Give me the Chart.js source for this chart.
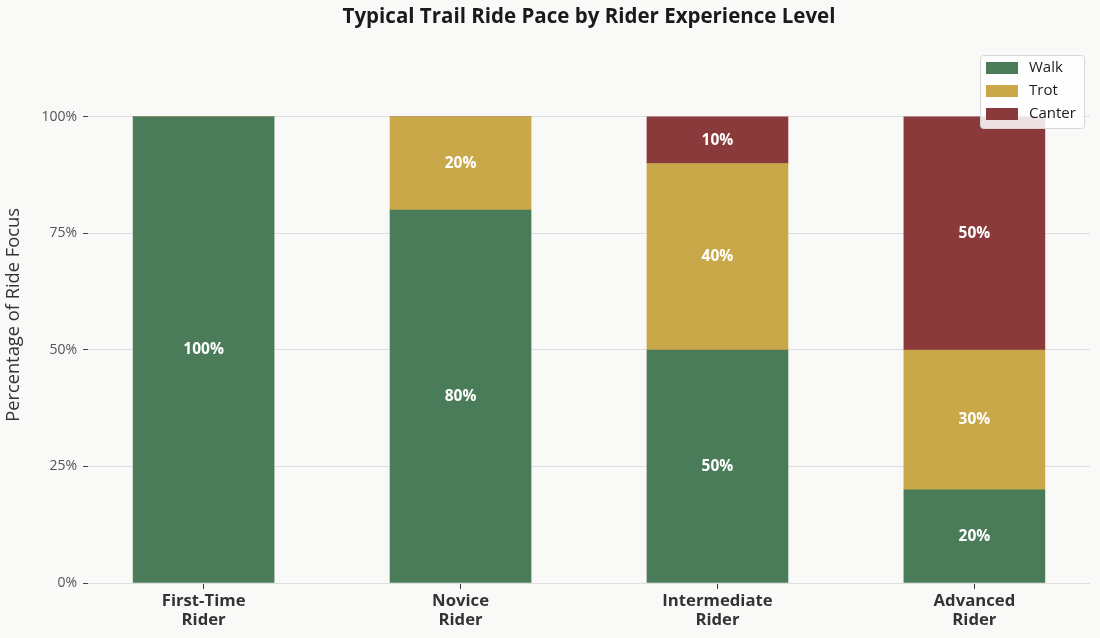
<!DOCTYPE html>
<html>
<head>
<meta charset="utf-8">
<script src="https://cdn.jsdelivr.net/npm/chart.js@4.4.1/dist/chart.umd.min.js"></script>
<style>
  html, body { margin: 0; padding: 0; background: #f9f9f7; }
  #wrap { width: 1100px; height: 638px; }
</style>
</head>
<body>
<div id="wrap"><canvas id="myChart"></canvas></div>
<script>
// data
const riders = [['First-Time', 'Rider'], ['Novice', 'Rider'], ['Intermediate', 'Rider'], ['Advanced', 'Rider']];
const walk = [100, 80, 50, 20];
const trot = [0, 20, 40, 30];
const canter = [0, 0, 10, 50];
const yTicks = [0, 25, 50, 75, 100];

(()=>{
    const ctx = document.getElementById('myChart');
    Chart.defaults.font.family = "'Open Sans', 'Noto Sans', sans-serif";

    const toPoints = arr => arr.map((v, i) => ({x: i, y: v}));

    // white % labels in the middle of each segment
    const segLabels = {
        id: 'segLabels',
        afterDatasetsDraw(chart) {
            const c = chart.ctx;
            c.save();
            c.fillStyle = '#ffffff';
            c.font = "bold 15.5px 'Open Sans', sans-serif";
            c.textAlign = 'center';
            c.textBaseline = 'middle';
            chart.data.datasets.forEach((ds, d) => {
                chart.getDatasetMeta(d).data.forEach((el, i) => {
                    const v = ds.data[i].y;
                    if (!v) return;
                    c.fillText(v + '%', el.x, (el.y + el.base) / 2);
                });
            });
            c.restore();
        }
    };

    // legend box in the upper right corner
    const boxLegend = {
        id: 'boxLegend',
        afterDraw(chart) {
            const c = chart.ctx;
            const x0 = 980, y0 = 55, w = 104, h = 73;
            c.save();
            c.fillStyle = 'rgba(255,255,255,0.85)';
            c.strokeStyle = '#d6d6d6';
            c.lineWidth = 1;
            c.beginPath();
            c.roundRect(x0 + 0.5, y0 + 0.5, w, h, 3);
            c.fill();
            c.stroke();
            c.font = "15px 'Open Sans', sans-serif";
            c.textBaseline = 'middle';
            c.textAlign = 'left';
            chart.data.datasets.forEach((ds, d) => {
                const cy = 68 + d * 23;
                c.fillStyle = ds.backgroundColor;
                c.fillRect(986, cy - 6, 32, 12);
                c.fillStyle = '#1a1a1a';
                c.fillText(ds.label, 1029, cy);
            });
            c.restore();
        }
    };

    new Chart(ctx, {
        type: 'bar',
        data: {
            datasets: [
                { label: 'Walk', data: toPoints(walk), backgroundColor: '#4a7c59' },
                { label: 'Trot', data: toPoints(trot), backgroundColor: '#c9a84a' },
                { label: 'Canter', data: toPoints(canter), backgroundColor: '#8b3a3b' }
            ]
        },
        options: {
            responsive: true,
            maintainAspectRatio: false,
            animation: false,
            layout: { padding: { left: 0, right: 10, top: 0, bottom: 0 } },
            datasets: { bar: { barThickness: 141, borderWidth: 0 } },
            plugins: {
                legend: { display: false },
                tooltip: { enabled: false },
                title: {
                    display: true,
                    fullSize: false,
                    text: 'Typical Trail Ride Pace by Rider Experience Level',
                    color: '#1a1a1a',
                    font: { size: 20.5, weight: 'bold' },
                    padding: { top: 5, bottom: 17.4 }
                }
            },
            scales: {
                x: {
                    type: 'linear',
                    stacked: true,
                    offset: false,
                    min: -0.45,
                    max: 3.45,
                    border: { display: false },
                    grid: { offset: false, drawOnChartArea: false, tickLength: 6, tickColor: '#333' },
                    afterBuildTicks: axis => { axis.ticks = riders.map((r, i) => ({value: i})); },
                    afterFit: scale => { scale.height = 55; },
                    ticks: {
                        autoSkip: false,
                        maxRotation: 0,
                        padding: 3,
                        color: '#333',
                        font: { size: 16.7, weight: 'bold', lineHeight: 1.13 },
                        callback: v => riders[v]
                    }
                },
                y: {
                    stacked: true,
                    min: 0,
                    max: 115,
                    border: { display: false },
                    grid: { color: '#dedede', tickLength: 5, tickColor: '#444' },
                    afterBuildTicks: axis => { axis.ticks = yTicks.map(v => ({value: v})); },
                    afterFit: scale => { scale.width = 88; },
                    ticks: {
                        padding: 6,
                        color: '#555',
                        font: { size: 14 },
                        callback: v => v + '%'
                    },
                    title: {
                        display: true,
                        text: 'Percentage of Ride Focus',
                        color: '#333',
                        font: { size: 18.3 },
                        padding: { top: 3, bottom: 0 }
                    }
                }
            }
        },
        plugins: [segLabels, boxLegend]
    });
})()
</script>
</body>
</html>
